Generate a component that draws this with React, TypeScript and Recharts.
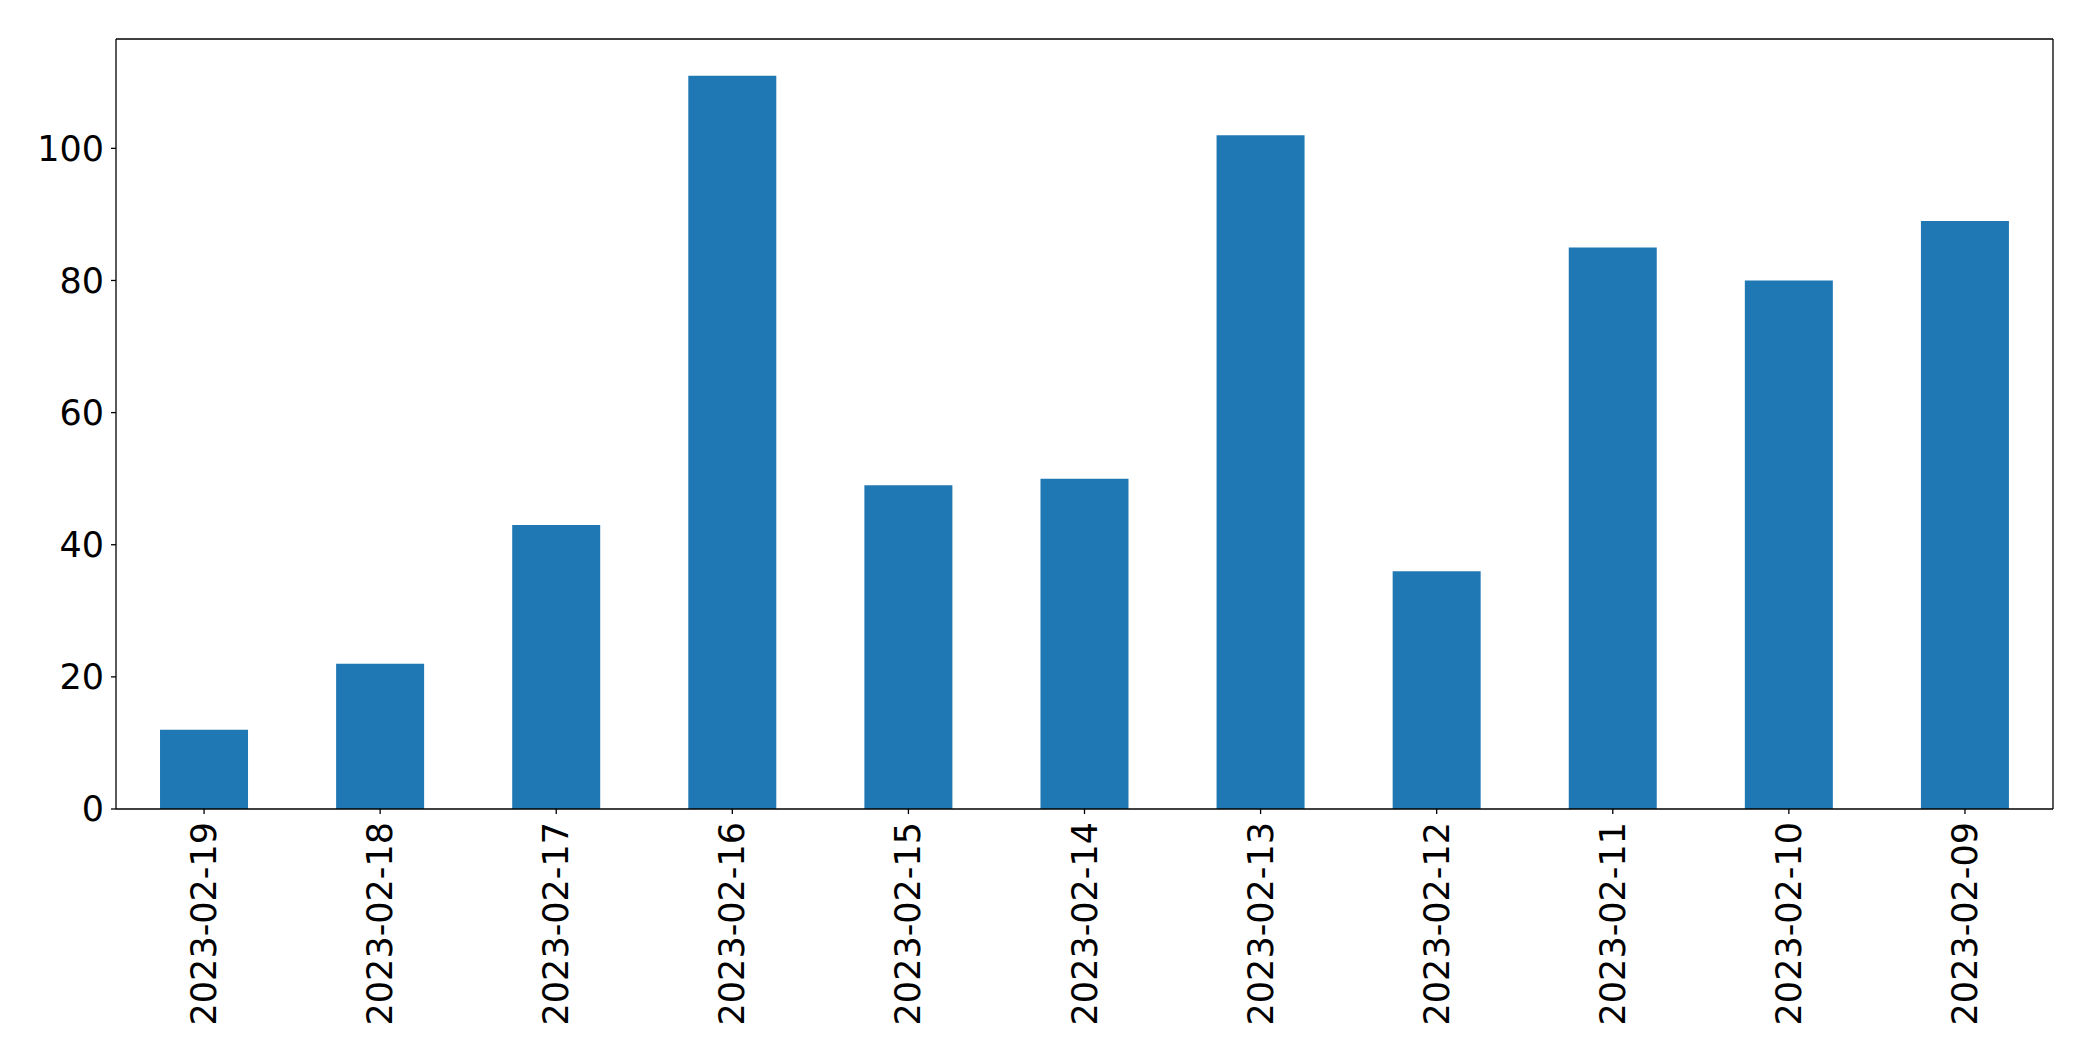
import React from 'react';
import { BarChart, Bar, XAxis, YAxis } from 'recharts';

const dates = [
    '2023-02-19', '2023-02-18', '2023-02-17', '2023-02-16', '2023-02-15', '2023-02-14',
    '2023-02-13', '2023-02-12', '2023-02-11', '2023-02-10', '2023-02-09',
];
const counts = [12, 22, 43, 111, 49, 50, 102, 36, 85, 80, 89];
const yTicks = [0, 20, 40, 60, 80, 100];

const data = dates.map((d, i) => ({ date: d, count: counts[i] }));

const FONT = '"DejaVu Sans", sans-serif';

// rotated date labels, reading bottom to top
const DateTick = (props: any) => {
    const { x, y, payload } = props;
    return (
        <text
            x={x}
            y={y}
            transform={`rotate(-90, ${x}, ${y})`}
            textAnchor='end'
            dominantBaseline='central'
            fontSize={35}
            fontFamily={FONT}
            fill='#000'
        >
            {payload.value}
        </text>
    );
};

const App: React.FC = () => {
    return (
        <div style={{ position: 'fixed', left: 0, top: 0, width: 2093, height: 1061, background: '#fff' }}>
            <BarChart
                width={2093}
                height={1061}
                data={data}
                margin={{ top: 38, right: 39, left: 0, bottom: 0 }}
                barCategoryGap='25%'
            >
                <XAxis
                    dataKey='date'
                    height={252}
                    interval={0}
                    tick={<DateTick />}
                    tickSize={5}
                    tickMargin={8}
                    axisLine={{ stroke: '#000', strokeWidth: 1.3 }}
                    tickLine={{ stroke: '#000', strokeWidth: 1.3 }}
                />
                <XAxis
                    xAxisId='top'
                    dataKey='date'
                    orientation='top'
                    height={1}
                    tick={false}
                    tickLine={false}
                    axisLine={{ stroke: '#000', strokeWidth: 1.3 }}
                />
                <YAxis
                    width={116}
                    domain={[0, 116.55]}
                    ticks={yTicks}
                    allowDataOverflow
                    tickSize={5}
                    tickMargin={7}
                    tick={{ fontSize: 35, fontFamily: FONT, fill: '#000' }}
                    axisLine={{ stroke: '#000', strokeWidth: 1.3 }}
                    tickLine={{ stroke: '#000', strokeWidth: 1.3 }}
                />
                <YAxis
                    yAxisId='right'
                    orientation='right'
                    width={1}
                    domain={[0, 116.55]}
                    tick={false}
                    tickLine={false}
                    axisLine={{ stroke: '#000', strokeWidth: 1.3 }}
                />
                <Bar dataKey='count' fill='#1f77b4' isAnimationActive={false} />
            </BarChart>
        </div>
    );
};

export default App;
